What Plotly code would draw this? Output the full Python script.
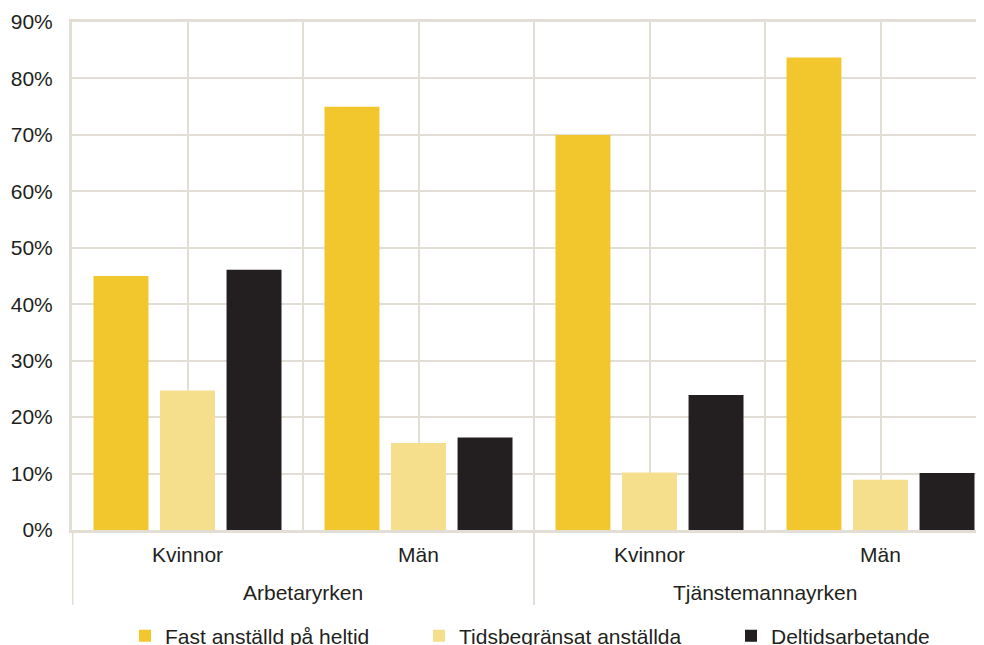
import plotly.graph_objects as go

# ---- data ----
categories = ["Kvinnor", "Män", "Kvinnor", "Män"]
groups = ["Arbetaryrken", "Tjänstemannayrken"]
series_names = ["Fast anställd på heltid", "Tidsbegränsat anställda", "Deltidsarbetande"]
fast = [45.0, 75.0, 70.0, 83.7]
tids = [24.7, 15.4, 10.2, 8.9]
deltid = [46.1, 16.4, 23.9, 10.1]
y_ticks = [0, 10, 20, 30, 40, 50, 60, 70, 80, 90]
y_tick_labels = ["0%", "10%", "20%", "30%", "40%", "50%", "60%", "70%", "80%", "90%"]

colors = ["#F2C72E", "#F6DF8C", "#231F20"]
grid_color = "#E3DED5"
text_color = "#231F20"
FONT = "Liberation Sans, Arial, sans-serif"
FS = 21

xpos = list(range(len(categories)))

fig = go.Figure()
legend_ids = ["legend", "legend2", "legend3"]
for name, vals, col, lg in zip(series_names, [fast, tids, deltid], colors, legend_ids):
    fig.add_trace(go.Bar(
        x=xpos, y=vals, name=name, marker=dict(color=col, line=dict(width=0)),
        legend=lg, hoverinfo="skip",
    ))

# the page body adds an 8px offset; figure sized to fill the rest of the window
OFF = 8
W, H = 984 - OFF, 645 - OFF
ml, mr, mt, mb = 72 - OFF, 0, 22 - OFF, 115
pw = W - ml - mr
ph = H - mt - mb
plot_bottom_screen = 530

# x range: each category 231 px wide, left edge at -0.5
cat_px = 231.0
x_right = -0.5 + pw / cat_px

fig.update_layout(
    width=W, height=H,
    margin=dict(l=ml, r=mr, t=mt, b=mb, pad=0, autoexpand=False),
    paper_bgcolor="white", plot_bgcolor="white",
    barmode="group", bargap=0.136, bargroupgap=0.174,
    font=dict(family=FONT, size=FS, color=text_color),
    showlegend=True,
    xaxis=dict(
        range=[-0.5, x_right],
        tickvals=xpos, ticktext=categories,
        showgrid=True, gridcolor=grid_color, gridwidth=1.5,
        minor=dict(tickvals=[-0.5, 0.5, 1.5, 2.5, 3.5], showgrid=True,
                   gridcolor=grid_color, gridwidth=1.5, ticks=""),
        showline=True, linecolor=grid_color, linewidth=3, mirror=True,
        ticks="", ticklabelstandoff=4, zeroline=False, automargin=False,
        tickfont=dict(family=FONT, size=FS, color=text_color),
    ),
    yaxis=dict(
        range=[0, 90], tickvals=y_ticks, ticktext=y_tick_labels,
        showgrid=True, gridcolor=grid_color, gridwidth=1.5,
        showline=True, linecolor=grid_color, linewidth=3, mirror=False,
        ticks="", ticklabelstandoff=12, zeroline=False, automargin=False,
        tickfont=dict(family=FONT, size=FS, color=text_color),
    ),
)

# legends positioned individually (screen pixel positions of legend texts)
leg_text_px = [165, 459, 771]
for lg, tx in zip(legend_ids, leg_text_px):
    fig.update_layout({lg: dict(
        orientation="h", x=(tx - 40 - 72) / pw, xanchor="left",
        y=(plot_bottom_screen - 636) / ph, yanchor="middle",
        bgcolor="rgba(0,0,0,0)", borderwidth=0,
        font=dict(family=FONT, size=FS, color=text_color),
    )})

# group separators below the axis
y_bottom = -(605 - plot_bottom_screen) / ph
for xv in [-0.5, 1.5]:
    fig.add_shape(type="line", xref="x", yref="paper", x0=xv, x1=xv, y0=0, y1=y_bottom,
                  line=dict(color=grid_color, width=3 if xv == -0.5 else 2))

# group labels
for i, g in enumerate(groups):
    fig.add_annotation(x=2 * i + 0.5, xref="x", y=-(592 - plot_bottom_screen) / ph, yref="paper",
                       text=g, showarrow=False, yanchor="middle",
                       font=dict(family=FONT, size=FS, color=text_color))

fig.write_html("out.html")
